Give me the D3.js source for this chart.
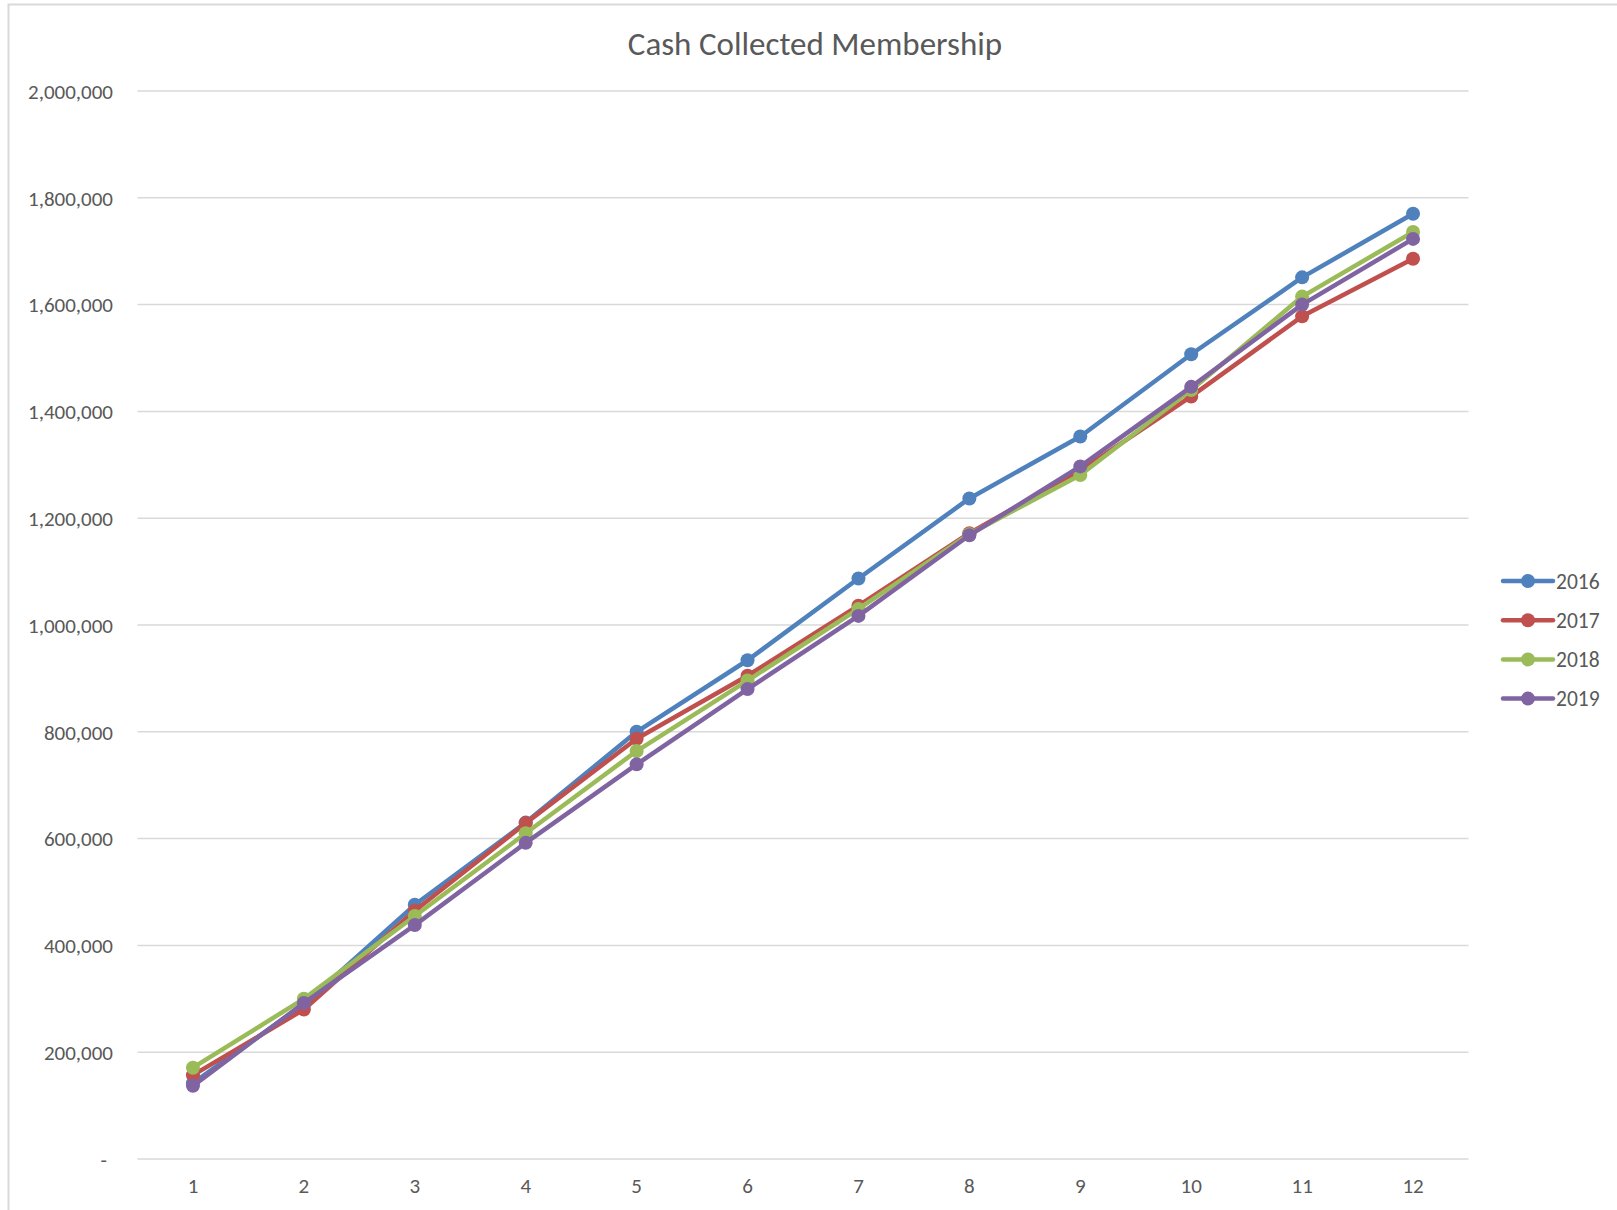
<!DOCTYPE html>
<html>
<head>
<meta charset="utf-8">
<script src="https://cdn.jsdelivr.net/npm/d3@7"></script>
<style>
  html, body { margin: 0; padding: 0; background: #fff; }
  svg { display: block; }
  text { font-family: Calibri, Carlito, Lato, "Open Sans", sans-serif; fill: #595959; }
</style>
</head>
<body>
<svg id="chart" width="1617" height="1210"></svg>
<script>
const months = [1, 2, 3, 4, 5, 6, 7, 8, 9, 10, 11, 12];
const seriesNames = ["2016", "2017", "2018", "2019"];
const values2016 = [142000, 290000, 476000, 630000, 800000, 934000, 1087000, 1237000, 1353000, 1507000, 1651000, 1770000];
const values2017 = [157000, 280000, 465000, 629000, 787000, 905000, 1036000, 1172000, 1289000, 1428000, 1578000, 1686000];
const values2018 = [171000, 300000, 455000, 610000, 764000, 896000, 1030000, 1170000, 1281000, 1440000, 1615000, 1736000];
const values2019 = [137000, 292000, 438000, 592000, 739000, 880000, 1017000, 1168000, 1297000, 1446000, 1600000, 1723000];
const yTicks = [0, 200000, 400000, 600000, 800000, 1000000, 1200000, 1400000, 1600000, 1800000, 2000000];
const colors = ["#4F81BD", "#C0504D", "#9BBB59", "#8064A2"];
const titleText = "Cash Collected Membership";

const series = seriesNames.map((name, i) => ({
  name,
  color: colors[i],
  values: [values2016, values2017, values2018, values2019][i]
}));

const svg = d3.select("#chart");

// outer chart border
svg.append("rect")
  .attr("x", 8.5).attr("y", 4.5)
  .attr("width", 1700).attr("height", 1300)
  .attr("fill", "none").attr("stroke", "#d9d9d9").attr("stroke-width", 2);

const plot = { left: 137.5, right: 1468.5, top: 91, bottom: 1159 };

const x = d3.scaleBand().domain(months).range([plot.left, plot.right]);
const y = d3.scaleLinear().domain([0, 2000000]).range([plot.bottom, plot.top]);

// gridlines
svg.append("g").selectAll("line").data(yTicks).join("line")
  .attr("x1", plot.left).attr("x2", plot.right)
  .attr("y1", d => y(d)).attr("y2", d => y(d))
  .attr("stroke", "#d9d9d9").attr("stroke-width", 1.5);

// y axis
const yAxis = d3.axisLeft(y).tickValues(yTicks).tickSize(0).tickPadding(0)
  .tickFormat(d => d === 0 ? "-" : d3.format(",")(d));
const gy = svg.append("g").attr("transform", `translate(${113},0)`).call(yAxis);
gy.select(".domain").remove();
gy.selectAll("text").style("font-size", "21px").attr("fill", "#595959").attr("dy", "0.35em")
  .attr("dx", d => d === 0 ? "-6px" : "0");

// x axis
const xAxis = d3.axisBottom(x).tickSize(0).tickPadding(0);
const gx = svg.append("g").attr("transform", `translate(0,${1186})`).call(xAxis);
gx.select(".domain").remove();
gx.selectAll("text").style("font-size", "21px").attr("fill", "#595959").attr("dy", "0.35em");

// lines
const line = d3.line()
  .x((d, i) => x(months[i]) + x.bandwidth() / 2)
  .y(d => y(d));

const gSeries = svg.append("g").selectAll("g").data(series).join("g");
gSeries.append("path")
  .attr("d", d => line(d.values))
  .attr("fill", "none")
  .attr("stroke", d => d.color)
  .attr("stroke-width", 4.5)
  .attr("stroke-linejoin", "round")
  .attr("stroke-linecap", "round");
gSeries.selectAll("circle").data(d => d.values.map((v, i) => ({ v, i, color: d.color }))).join("circle")
  .attr("cx", d => x(months[d.i]) + x.bandwidth() / 2)
  .attr("cy", d => y(d.v))
  .attr("r", 7)
  .attr("fill", d => d.color);

// title
svg.append("text")
  .attr("x", 815).attr("y", 44)
  .attr("text-anchor", "middle").attr("dominant-baseline", "central")
  .style("font-size", "33px")
  .text(titleText);

// legend
const legend = svg.append("g").selectAll("g").data(series).join("g")
  .attr("transform", (d, i) => `translate(1503,${581 + i * 39.2})`);
legend.append("line")
  .attr("x1", 0).attr("x2", 50).attr("y1", 0).attr("y2", 0)
  .attr("stroke", d => d.color).attr("stroke-width", 4.5).attr("stroke-linecap", "round");
legend.append("circle").attr("cx", 25).attr("cy", 0).attr("r", 7).attr("fill", d => d.color);
legend.append("text")
  .attr("x", 53).attr("y", 0).attr("dy", "0.35em")
  .style("font-size", "21.5px")
  .text(d => d.name);
</script>
</body>
</html>
